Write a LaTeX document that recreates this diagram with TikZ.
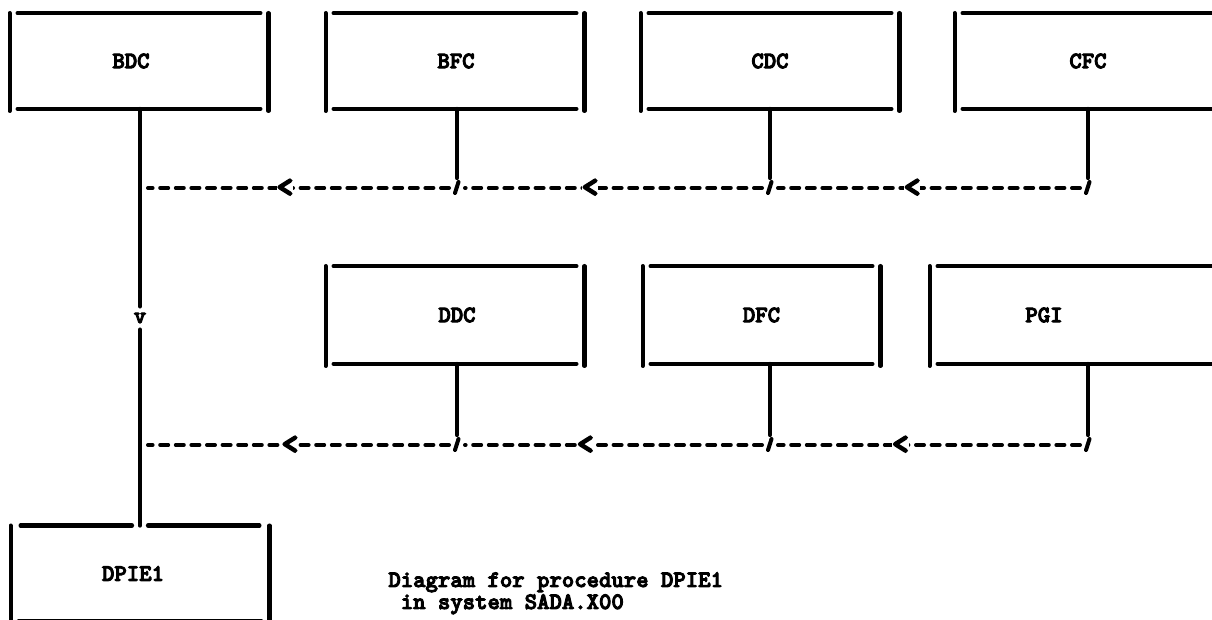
\documentclass[tikz,border=0pt]{standalone}
\usepackage{fontspec}
\newfontfamily\typew{lmmonolt10-bold.otf}[FakeBold=4]
\newfontfamily\typechev{lmmonolt10-bold.otf}[FakeBold=6]
\newcommand\sqbox[1]{%
  \draw[ln] ([xshift=4pt]#1.north west) -- ([xshift=-4pt]#1.north east);
  \draw[ln] ([xshift=4pt]#1.south west) -- ([xshift=-4pt]#1.south east);
  \draw[ln] (#1.north west) -- ([yshift=-1pt]#1.south west);
  \draw[ln] (#1.north east) -- ([yshift=-1pt]#1.south east);}
\begin{document}
\begin{tikzpicture}[x=0.5pt,y=-0.5pt,
  txt/.style={font=\typew\fontsize{11.8}{12}\selectfont},
  boxn/.style={minimum width=129pt, minimum height=47.5pt, inner sep=0pt},
  lab/.style={txt, inner sep=0pt},
  ln/.style={line width=2.1pt, line cap=round},
  dsh/.style={line width=2pt, line cap=round, dash pattern=on 4pt off 3.8pt, shorten <=4pt, shorten >=4pt},
  chev/.style={font=\typechev\fontsize{15.5}{12}\selectfont, fill=white, inner sep=0pt},
  tickmark/.style={line width=2pt, line cap=round}
]
\clip (0,0) rectangle (1212,620);
\useasboundingbox (0,0) rectangle (1212,620);

% boxes
\node[boxn, label={[lab,xshift=-4pt]center:BDC}] (bdc) at (139,61) {};
\node[boxn, label={[lab,xshift=0.5pt]center:BFC}] (bfc) at (455,61) {};
\node[boxn, label={[lab]center:CDC}] (cdc) at (770,61) {};
\node[boxn, minimum width=135pt, label={[lab,xshift=-1pt]center:CFC}] (cfc) at (1090,61) {};
\node[boxn, minimum height=48.5pt, label={[lab,xshift=1pt]center:DDC}] (ddc) at (455,315) {};
\node[boxn, minimum width=118.5pt, minimum height=48.5pt, label={[lab]center:DFC}] (dfc) at (761.5,315) {};
\node[boxn, minimum width=145pt, minimum height=48.5pt, label={[lab,xshift=-15.5pt]center:PGI}] (pgi) at (1075,315) {};
\node[boxn, label={[lab,xshift=-3.5pt]center:DPIE1}] (dpie) at (140,573.5) {};

\sqbox{bdc}\sqbox{bfc}\sqbox{cdc}\sqbox{cfc}
\sqbox{ddc}\sqbox{dfc}\sqbox{pgi}
% DPIE1 box with split top line
\draw[ln] ([xshift=5pt]dpie.north west) -- ([xshift=-4pt]dpie.north);
\draw[ln] ([xshift=4pt]dpie.north) -- ([xshift=-5pt]dpie.north east);
\draw[ln] ([xshift=4pt]dpie.south west) -- ([xshift=-4pt]dpie.south east);
\draw[ln] (dpie.north west) -- (dpie.south west);
\draw[ln] (dpie.north east) -- (dpie.south east);

% connection points
\coordinate (r1) at (0,188);
\coordinate (r2) at (0,445);
\coordinate (sbf) at ([xshift=1pt]bfc.south);
\coordinate (scd) at (cdc.south);
\coordinate (scf) at ([xshift=-1pt]cfc.south);
\coordinate (sdd) at ([xshift=1pt]ddc.south);
\coordinate (sdf) at ([xshift=4.25pt]dfc.south);
\coordinate (spg) at ([xshift=6.5pt]pgi.south);
\coordinate (m1) at (dpie.north |- r1);
\coordinate (m2) at (dpie.north |- r2);
\coordinate (jbf) at (sbf |- r1);
\coordinate (jcd) at (scd |- r1);
\coordinate (jcf) at (scf |- r1);
\coordinate (jdd) at (sdd |- r2);
\coordinate (jdf) at (sdf |- r2);
\coordinate (jpg) at (spg |- r2);

% vertical drops with ticks
\foreach \s/\j in {sbf/jbf,scd/jcd,scf/jcf,sdd/jdd,sdf/jdf,spg/jpg}{
  \draw[ln] (\s) -- ([yshift=5pt]\j);
  \draw[tickmark] ([shift={(1.5,-6)}]\j) -- ([shift={(-2,5)}]\j);
}

% dashed flows
\draw[dsh] (jcf) -- node[chev,pos=0.553]{<} (jcd);
\draw[dsh] (jcd) -- node[chev,pos=0.575]{<} (jbf);
\draw[dsh] (jbf) -- node[chev,pos=0.543]{<} (m1);
\draw[dsh] (jpg) -- node[chev,pos=0.59]{<} (jdf);
\draw[dsh] (jdf) -- node[chev,pos=0.59]{<} (jdd);
\draw[dsh] (jdd) -- node[chev,pos=0.527]{<} (m2);

% main vertical
\node[txt, inner sep=3pt] (v) at (140,318) {v};
\draw[ln] (bdc.south -| dpie.north) -- (v.north);
\draw[ln] (v.south) -- (dpie.north);

% caption
\node[txt, anchor=base west, inner sep=0pt] (cap1) at (388,587) {Diagram for procedure DPIE1};
\node[txt, anchor=base west, inner sep=0pt] (cap2) at (400.4,609) {in system SADA.X00};
\end{tikzpicture}
\end{document}
